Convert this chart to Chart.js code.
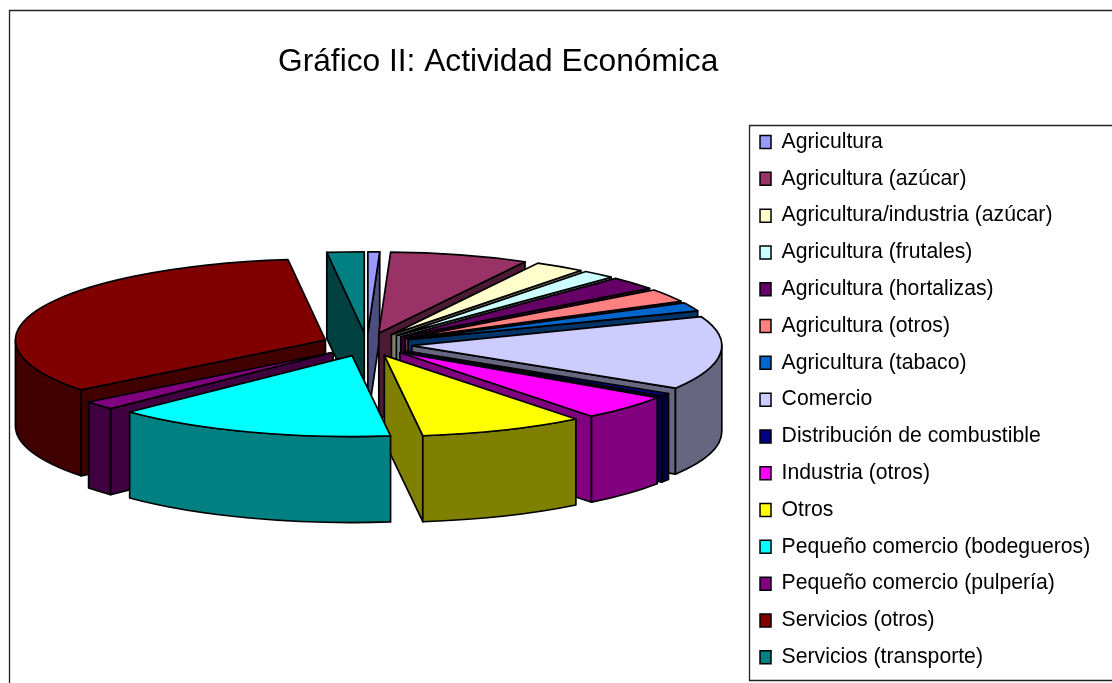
<!DOCTYPE html>
<html><head><meta charset="utf-8">
<style>html,body{margin:0;padding:0;background:#fff;overflow:hidden;width:1112px;height:683px}canvas{display:block}</style>
<script src="https://cdn.jsdelivr.net/npm/chart.js@4"></script>
</head><body><canvas id="c" width="1112" height="760"></canvas>
<script>
const categories = ["Agricultura","Agricultura (azúcar)","Agricultura/industria (azúcar)","Agricultura (frutales)","Agricultura (hortalizas)","Agricultura (otros)","Agricultura (tabaco)","Comercio","Distribución de combustible","Industria (otros)","Otros","Pequeño comercio (bodegueros)","Pequeño comercio (pulpería)","Servicios (otros)","Servicios (transporte)"];
const shares = [0.6,7.1,2.6,1.7,2.6,2.6,1.7,14.4,0.6,4.9,8.49,14.49,1.7,33.1,1.9];
const colors = ["#9999FF","#993366","#FFFFCC","#CCFFFF","#660066","#FF8080","#0066CC","#CCCCFF","#000080","#FF00FF","#FFFF00","#00FFFF","#800080","#800000","#008080"];
const sideColors = ["#4D4D80","#4D1A33","#808066","#668080","#330033","#804040","#003366","#666680","#000040","#800080","#808000","#008080","#400040","#400000","#004040"];
const labelSpots = [[368,232],[472,235],[574,246],[617,255],[647,264],[687,283],[716,297],[694,539],[670,616],[631,573],[522,537],[212,539],[62,508],[81,237],[310,207]];
const leaders = [[[60,237],[41,237],[37,308]],[[327,207],[346,207],[346,253]],[[631,495],[632,558]],[[662,482],[672,580],[672,600]]];

const PIE = {cx:367, cy:344.5, rx:310, ry:81, depth:86, explode:45};
const FONT = "'Liberation Sans', Arial, sans-serif";

const pie3d = {
  id:'pie3d',
  beforeDraw(chart){
    const c = chart.ctx;
    c.save();
    c.strokeStyle='#222'; c.lineWidth=1.3;
    c.beginPath();
    c.moveTo(9.5,683); c.lineTo(9.5,10.5); c.lineTo(1112,10.5);
    c.stroke();
    c.beginPath();
    c.moveTo(1112,125.5); c.lineTo(749.5,125.5); c.lineTo(749.5,680.5); c.lineTo(1112,680.5);
    c.stroke();
    c.restore();
  },
  beforeDatasetsDraw(chart){
    const c = chart.ctx, meta = chart.getDatasetMeta(0);
    const k = PIE.ry/PIE.rx;
    const items = meta.data.map((arc,i)=>{
      const s = arc.startAngle, e = arc.endAngle, m=(s+e)/2;
      return {arc,i,s,e,m,tx:PIE.cx+Math.cos(m)*PIE.explode,ty:PIE.cy+Math.sin(m)*PIE.explode*k};
    }).sort((a,b)=>Math.sin(a.m)-Math.sin(b.m));
    c.save();
    c.lineJoin='round';
    c.lineWidth=1.7;
    c.strokeStyle='#000';
    for(const it of items){
      const {arc,i,s,e,tx,ty}=it;
      const rimX=a=>tx+Math.cos(a)*PIE.rx, rimY=a=>ty+Math.sin(a)*PIE.ry;
      c.fillStyle = sideColors[i];
      const quad=a=>{
        c.beginPath();
        c.moveTo(tx,ty); c.lineTo(rimX(a),rimY(a));
        c.lineTo(rimX(a),rimY(a)+PIE.depth); c.lineTo(tx,ty+PIE.depth); c.closePath();
        c.fill(); c.stroke();
      };
      if(Math.cos(s)<0) quad(s);
      if(Math.cos(e)>0) quad(e);
      const a=Math.max(s,0), b=Math.min(e,Math.PI);
      if(b>a){
        c.beginPath();
        c.ellipse(tx,ty,PIE.rx,PIE.ry,0,a,b);
        c.ellipse(tx,ty+PIE.depth,PIE.rx,PIE.ry,0,b,a,true);
        c.closePath(); c.fill(); c.stroke();
      }
      // top face: the library's own arc, squashed into the tilted plane
      const sc=PIE.rx/arc.outerRadius;
      c.save();
      c.translate(tx,ty); c.scale(sc,sc*k); c.translate(-arc.x,-arc.y);
      arc.draw(c);
      c.restore();
      c.beginPath();
      c.moveTo(tx,ty);
      c.ellipse(tx,ty,PIE.rx,PIE.ry,0,s,e);
      c.closePath(); c.stroke();
    }
    c.restore();
    return false;
  },
  afterDatasetsDraw(chart){
    const c=chart.ctx;
    c.save();
    c.strokeStyle='#555'; c.lineWidth=1;
    for(const l of leaders){
      c.beginPath();
      l.forEach((p,j)=> j? c.lineTo(p[0]+.5,p[1]+.5): c.moveTo(p[0]+.5,p[1]+.5));
      c.stroke();
    }
    c.fillStyle='#000'; c.font='18px '+FONT; c.textAlign='center'; c.textBaseline='middle';
    shares.forEach((v,i)=>c.fillText(Math.round(v)+'%',labelSpots[i][0],labelSpots[i][1]));
    c.restore();
  }
};

new Chart(document.getElementById('c'),{
  type:'pie',
  data:{labels:categories,datasets:[{data:shares,backgroundColor:colors,borderWidth:0}]},
  options:{
    responsive:false,animation:false,rotation:0,
    layout:{padding:{left:278,right:11.8,top:0,bottom:0}},
    plugins:{
      tooltip:{enabled:false},
      title:{display:true,text:'Gráfico II: Actividad Económica',align:'start',color:'#000',
        font:{family:FONT,size:31.7,weight:'normal'},padding:{top:43,bottom:34.8}},
      legend:{position:'right',align:'start',fullSize:false,
        labels:{color:'#000',font:{family:FONT,size:21.2},boxWidth:11,boxHeight:13,padding:15.6,
          generateLabels(ch){
            return Chart.overrides.doughnut.plugins.legend.labels.generateLabels(ch)
              .map(o=>Object.assign(o,{strokeStyle:'#000',lineWidth:1.5}));
          }}}
    }
  },
  plugins:[pie3d]
});
</script></body></html>
